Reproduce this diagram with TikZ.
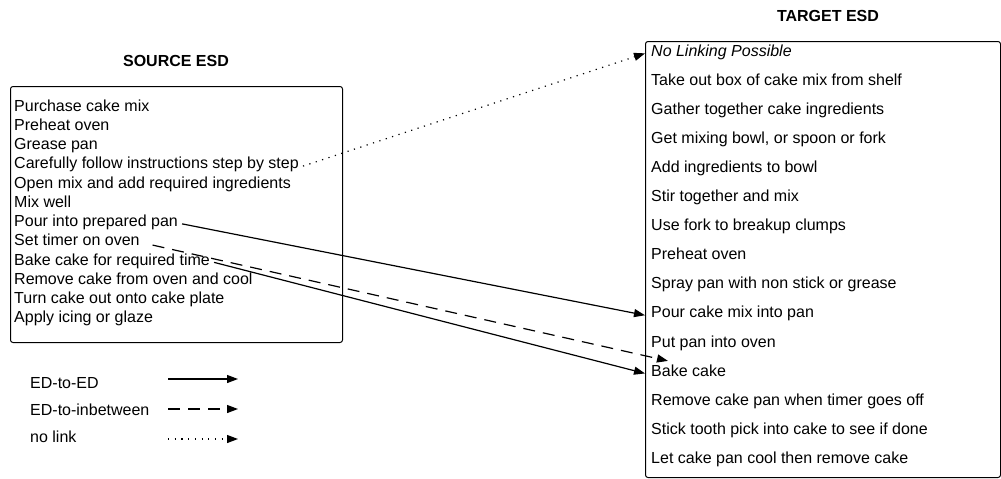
\documentclass[tikz,border=0pt]{standalone}
\usepackage{fontspec}
\setmainfont{Liberation Sans}
\usetikzlibrary{arrows.meta,calc}
\tikzset{
  esdbox/.style={draw,line width=1pt,rounded corners=2.5pt,anchor=north west,inner sep=0pt},
  esdtitle/.style={font=\fontsize{16}{19}\bfseries},
  srcitem/.style={anchor=base west,inner xsep=4pt,inner ysep=0pt},
  tgtitem/.style={anchor=base west,inner xsep=6pt,inner ysep=0pt},
  link/.style={line width=1.2pt,-{Triangle[length=11pt,width=8pt]}},
  edlink/.style={link},
  midlink/.style={link,dash pattern=on 12pt off 8pt},
  nolink/.style={link,dash pattern=on 1.2pt off 5.5pt},
}
\begin{document}
\begin{tikzpicture}[x=1pt,y=-1pt,font=\fontsize{16}{19}\selectfont]
\useasboundingbox (0,0) rectangle (1001,479);
% titles and boxes
\node[esdtitle] (srctitle) at (176,61) {SOURCE ESD};
\node[esdtitle] (tgttitle) at (828,16) {TARGET ESD};
\node[esdbox,minimum width=332pt,minimum height=256pt] (srcbox) at (10,86) {};
\node[esdbox,minimum width=355pt,minimum height=436pt] (tgtbox) at (645,41) {};
% source events
\foreach \txt [count=\i] in {Purchase cake mix, Preheat oven, Grease pan,
  Carefully follow instructions step by step, Open mix and add required ingredients,
  Mix well, Pour into prepared pan, Set timer on oven, Bake cake for required time,
  Remove cake from oven and cool, Turn cake out onto cake plate, Apply icing or glaze}
  \node[srcitem] (s\i) at (10,{111+19.25*(\i-1)}) {\txt};
% target events
\foreach \txt [count=\i] in {\textit{No Linking Possible}, Take out box of cake mix from shelf,
  Gather together cake ingredients, {Get mixing bowl, or spoon or fork},
  Add ingredients to bowl, Stir together and mix, Use fork to breakup clumps,
  Preheat oven, Spray pan with non stick or grease, Pour cake mix into pan,
  Put pan into oven, Bake cake, Remove cake pan when timer goes off,
  Stick tooth pick into cake to see if done, Let cake pan cool then remove cake}
  \node[tgtitem] (t\i) at (645,{56+29.1*(\i-1)}) {\txt};
% links
\coordinate (gap) at ($(t11.mid west)!0.5!(t12.mid west)+(23,2)$);
\draw[nolink] (s4.mid east) -- (t1.mid west);
\draw[edlink] (s7.mid east) -- (t10.mid west);
\draw[midlink,shorten <=9pt] (s8.mid east) -- (gap);
\draw[edlink] (s9.mid east) -- (t12.mid west);
% legend
\foreach \txt/\sty [count=\i] in {ED-to-ED/edlink, ED-to-inbetween/midlink, no link/nolink} {
  \node[anchor=base west,inner sep=0pt] (lg\i) at (30,{388+27*(\i-1)}) {\txt};
  \coordinate (lgs\i) at (168,{379+30*(\i-1)});
  \coordinate (lge\i) at (238,{379+30*(\i-1)});
  \draw[\sty] (lgs\i) -- (lge\i);
}
\end{tikzpicture}
\end{document}
